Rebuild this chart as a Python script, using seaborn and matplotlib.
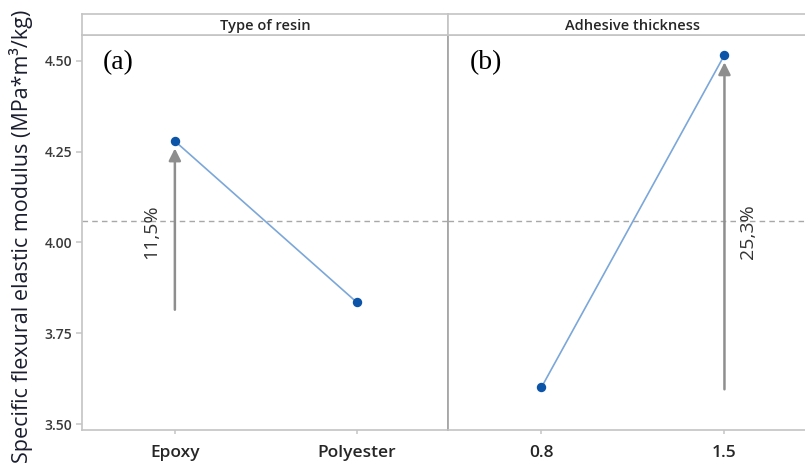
import matplotlib
matplotlib.use("Agg")
import matplotlib.pyplot as plt
import seaborn as sns
import pandas as pd

# Main-effects means for the specific flexural elastic modulus
resin_levels = ["Epoxy", "Polyester"]
resin_means = [4.279, 3.835]
thickness_levels = ["0.8", "1.5"]
thickness_means = [3.601, 4.516]
grand_mean = 4.058
panel_titles = ["Type of resin", "Adhesive thickness"]
panel_tags = ["(a)", "(b)"]
change_labels = ["11,5%", "25,3%"]
y_ticks = [3.50, 3.75, 4.00, 4.25, 4.50]

sns.set_theme(style="white")
plt.rcParams["font.family"] = ["Open Sans", "DejaVu Sans"]

W, H = 805, 467
fig = plt.figure(figsize=(W / 100, H / 100), dpi=100)

def fx(px):
    return px / W

def fy(py):
    return 1 - py / H

ax_top, ax_bot = 35, 430
strip_top = 14
panels = [(82, 448), (448, 816)]

line_col = "#7ba7d9"
dot_col = "#0b54a8"
frame_col = "#c4c4c4"
arrow_col = "#8e8e8e"
text_col = "#262626"

data_sets = [
    pd.DataFrame({"level": resin_levels, "mean": resin_means}),
    pd.DataFrame({"level": thickness_levels, "mean": thickness_means}),
]
arrow_bases = [3.815, 3.596]
label_pos = [(-0.13, 4.03), (0.13, 4.03)]

axes = []
for i, ((x0, x1), df) in enumerate(zip(panels, data_sets)):
    ax = fig.add_axes([fx(x0), fy(ax_bot), fx(x1) - fx(x0), fy(ax_top) - fy(ax_bot)])
    axes.append(ax)
    sns.lineplot(data=df, x="level", y="mean", ax=ax, color=line_col, lw=1.2,
                 sort=False, zorder=2)
    sns.scatterplot(data=df, x="level", y="mean", ax=ax, color=dot_col, s=46,
                    edgecolor=dot_col, linewidth=0, zorder=3)
    ax.set_xlim(-0.51, 1.5)
    ax.set_ylim(3.484, 4.571)
    ax.axhline(grand_mean, color="#a8a8a8", lw=1.0, ls=(0, (4, 3)), zorder=1)
    ax.set_xlabel("")
    ax.set_ylabel("")
    for s in ax.spines.values():
        s.set_color(frame_col)
        s.set_linewidth(1.2)
    ax.tick_params(axis="x", length=3, color="#cccccc", labelsize=12.5,
                   labelcolor=text_col, pad=8, bottom=True)
    for lbl in ax.get_xticklabels():
        lbl.set_fontweight("semibold")
    # arrow showing the change between the two levels
    hi = 0 if df["mean"].iloc[0] > df["mean"].iloc[1] else 1
    top_val = df["mean"].iloc[hi]
    ax.annotate("", xy=(hi, top_val - 0.02), xytext=(hi, arrow_bases[i]),
                arrowprops=dict(arrowstyle="-|>,head_length=0.6,head_width=0.3",
                                color=arrow_col, lw=1.8, shrinkA=0, shrinkB=0),
                zorder=2)
    dx, ty = label_pos[i]
    ax.text(hi + dx, ty, change_labels[i], rotation=90, ha="center", va="center",
            fontsize=14, color="#333333", family=["Open Sans", "DejaVu Sans"])
    ax.text(0.058, 0.93, panel_tags[i], transform=ax.transAxes, ha="left", va="center",
            fontsize=20, color="black", family=["Liberation Serif", "DejaVu Serif"])
    # strip header
    sax = fig.add_axes([fx(x0), fy(ax_top), fx(x1) - fx(x0), fy(strip_top) - fy(ax_top)])
    sax.set_xticks([])
    sax.set_yticks([])
    for s in sax.spines.values():
        s.set_color(frame_col)
        s.set_linewidth(1.2)
    sax.text(0.5, 0.45, panel_titles[i], transform=sax.transAxes,
             ha="center", va="center", fontsize=10.5, color=text_col,
             fontweight="semibold")

axes[0].set_yticks(y_ticks)
axes[0].set_yticklabels([f"{v:.2f}" for v in y_ticks], fontsize=10, color="#3a3a3a",
                        fontweight="semibold")
axes[0].tick_params(axis="y", left=True, length=4, color="#cccccc", pad=3)
axes[1].set_yticks([])
axes[1].spines["left"].set_color("#a0a0a0")

fig.text(fx(21), fy(236), "Specific flexural elastic modulus (MPa*m\u00b3/kg)",
         rotation=90, ha="center", va="center", fontsize=15.5, color="#1a1e2e")

fig.savefig("out.png", dpi=100)
